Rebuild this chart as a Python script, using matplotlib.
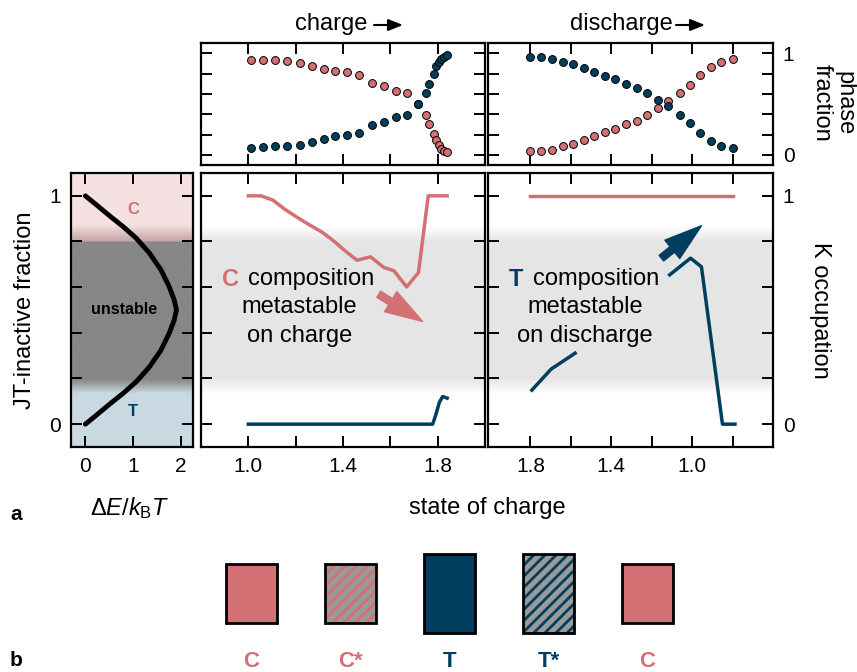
import numpy as np
import matplotlib
matplotlib.use("Agg")
import matplotlib.pyplot as plt
from matplotlib.patches import Rectangle, FancyArrowPatch
from matplotlib.colors import to_rgba

plt.rcParams["font.family"] = ["Liberation Sans", "DejaVu Sans"]
plt.rcParams["mathtext.fontset"] = "custom"
plt.rcParams["mathtext.rm"] = "Liberation Sans"
plt.rcParams["mathtext.it"] = "Liberation Sans:italic"
plt.rcParams["mathtext.bf"] = "Liberation Sans:bold"
plt.rcParams["hatch.linewidth"] = 2.0

RED = "#d27073"
BLUE = "#003e5f"

# ---- phase fraction, charge (top left)
chg_soc = [1.011, 1.064, 1.113, 1.163, 1.217, 1.268, 1.319, 1.367, 1.417, 1.468,
           1.523, 1.572, 1.624, 1.672, 1.718, 1.749, 1.765, 1.786, 1.794, 1.806,
           1.816, 1.827, 1.841]
chg_c = [0.935, 0.931, 0.928, 0.922, 0.902, 0.876, 0.843, 0.827, 0.810, 0.788,
         0.706, 0.676, 0.627, 0.608, 0.500, 0.389, 0.304, 0.206, 0.141, 0.095,
         0.062, 0.042, 0.026]
chg_t = [0.069, 0.075, 0.082, 0.085, 0.101, 0.124, 0.160, 0.183, 0.193, 0.216,
         0.297, 0.324, 0.376, 0.395, 0.500, 0.611, 0.696, 0.797, 0.869, 0.918,
         0.941, 0.967, 0.984]

# ---- phase fraction, discharge (top right)
dis_soc = [1.800, 1.747, 1.693, 1.640, 1.590, 1.536, 1.486, 1.430, 1.380, 1.326,
           1.273, 1.221, 1.169, 1.119, 1.061, 1.012, 0.959, 0.907, 0.855, 0.800]
dis_t = [0.967, 0.958, 0.941, 0.915, 0.893, 0.850, 0.810, 0.778, 0.745, 0.696,
         0.660, 0.611, 0.542, 0.477, 0.395, 0.314, 0.216, 0.134, 0.085, 0.065]
dis_c = [0.036, 0.042, 0.052, 0.085, 0.111, 0.150, 0.190, 0.222, 0.255, 0.301,
         0.333, 0.389, 0.458, 0.526, 0.608, 0.686, 0.781, 0.866, 0.918, 0.941]

# ---- K occupation, charge
occ_chg_c_soc = [1.0, 1.054, 1.104, 1.153, 1.203, 1.253, 1.310, 1.360, 1.409,
                 1.459, 1.516, 1.573, 1.615, 1.669, 1.719, 1.760, 1.840]
occ_chg_c = [1.0, 1.0, 0.981, 0.942, 0.908, 0.876, 0.842, 0.803, 0.759,
             0.718, 0.733, 0.686, 0.672, 0.601, 0.664, 1.0, 1.0]
occ_chg_t_soc = [1.0, 1.779, 1.793, 1.807, 1.821, 1.840]
occ_chg_t = [0.0, 0.0, 0.044, 0.095, 0.121, 0.114]

# ---- K occupation, discharge (nan = hidden behind the label)
occ_dis_c_soc = [1.8, 0.8]
occ_dis_c = [1.0, 1.0]
occ_dis_t_soc = [1.793, 1.698, 1.579, 1.35, 1.111, 1.008, 0.954, 0.850, 0.788]
occ_dis_t = [0.149, 0.241, 0.311, np.nan, 0.654, 0.727, 0.689, 0.0, 0.0]

# ---- left panel: barrier vs JT-inactive fraction
jt_frac = [0.0, 0.041, 0.089, 0.135, 0.186, 0.251, 0.324, 0.397, 0.455, 0.5,
           0.545, 0.603, 0.676, 0.749, 0.814, 0.865, 0.911, 0.959, 1.0]
barrier = [0.0, 0.24, 0.515, 0.79, 1.065, 1.34, 1.58, 1.75, 1.856, 1.904,
           1.856, 1.75, 1.58, 1.34, 1.065, 0.79, 0.515, 0.24, 0.0]

# ---- panel b
phase_labels = ["C", "C*", "T", "T*", "C"]
phase_colors = [RED, RED, BLUE, BLUE, RED]
phase_hatched = [False, True, False, True, False]
phase_heights = [0.6, 0.6, 0.8, 0.8, 0.6]

W, H = 857, 672


def box(x0, y0, x1, y1):
    # pixel box (top-left origin) -> figure fraction rect
    return [x0 / W, 1 - y1 / H, (x1 - x0) / W, (y1 - y0) / H]


def band(ax, xlim, stops, colors):
    yy = np.linspace(-0.1, 1.1, 600)
    rgba = np.array([to_rgba(c) for c in colors])
    img = np.stack([np.interp(yy, stops, rgba[:, k]) for k in range(4)], axis=-1)
    ax.imshow(img[:, None, :], extent=[xlim[0], xlim[1], -0.1, 1.1], origin="lower",
              aspect="auto", zorder=0, interpolation="bilinear")


def style(ax):
    for s in ax.spines.values():
        s.set_linewidth(1.6)
    ax.tick_params(direction="in", length=8, width=1.4, top=True, right=True,
                   labelsize=15, pad=7)


ARROW = "simple,head_width=0.85,head_length=1.35,tail_width=0.26"

fig = plt.figure(figsize=(W / 100, H / 100), dpi=100)

ax_l = fig.add_axes(box(71, 173, 193, 447))
ax_m = fig.add_axes(box(201, 173, 485, 447))
ax_r = fig.add_axes(box(488, 173, 773, 447))
ax_tm = fig.add_axes(box(201, 43, 485, 165))
ax_tr = fig.add_axes(box(488, 43, 773, 165))

yt = np.arange(0, 1.01, 0.2)
ytl = ["0", "", "", "", "", "1"]
xt_c = np.arange(1.0, 1.81, 0.2)
xtl_c = ["1.0", "", "1.4", "", "1.8"]
xt_d = np.arange(1.8, 0.79, -0.2)
xtl_d = ["1.8", "", "1.4", "", "1.0", ""]

gray0 = (0.9, 0.9, 0.9, 0.0)
gray1 = (0.9, 0.9, 0.9, 1.0)

# left panel
lx = (-0.3, 2.25)
band(ax_l, lx, [-0.1, 0.135, 0.195, 0.8, 0.801, 0.875, 1.1],
     ["#c9d9e1", "#c9d9e1", "#878787", "#878787", "#c4a3a3", "#f5e1e1", "#f5e1e1"])
ax_l.plot(barrier, jt_frac, color="black", lw=3.5, solid_capstyle="round", zorder=3)
ax_l.text(1.0, 0.94, "C", color=RED, fontsize=12, fontweight="bold", ha="center", va="center")
ax_l.text(1.0, 0.055, "T", color=BLUE, fontsize=12, fontweight="bold", ha="center", va="center")
ax_l.text(0.8, 0.5, "unstable", fontsize=11.5, fontweight="bold", ha="center", va="center")
ax_l.set_xlim(*lx)
ax_l.set_ylim(-0.1, 1.1)
ax_l.set_xticks([0, 1, 2])
ax_l.set_yticks(yt)
ax_l.set_yticklabels(ytl)
style(ax_l)

# middle panel (charge)
mx = (0.8, 2.0)
band(ax_m, mx, [-0.1, 0.13, 0.2, 0.8, 0.87, 1.1], [gray0, gray0, gray1, gray1, gray0, gray0])
ax_m.plot(occ_chg_c_soc, occ_chg_c, color=RED, lw=2.5, zorder=3)
ax_m.plot(occ_chg_t_soc, occ_chg_t, color=BLUE, lw=2.5, zorder=3)
ax_m.text(0.962, 0.635, "C", color=RED, fontsize=17, fontweight="bold", ha="right", va="center")
ax_m.text(0.997, 0.635, "composition", fontsize=17, ha="left", va="center")
ax_m.text(1.215, 0.511, "metastable", fontsize=17, ha="center", va="center")
ax_m.text(1.215, 0.387, "on charge", fontsize=17, ha="center", va="center")
ax_m.annotate("", xy=(1.736, 0.450), xytext=(1.551, 0.569),
              arrowprops=dict(arrowstyle=ARROW, color=RED, mutation_scale=20,
                              shrinkA=0, shrinkB=0))
ax_m.set_xlim(*mx)
ax_m.set_ylim(-0.1, 1.1)
ax_m.set_xticks(xt_c)
ax_m.set_xticklabels(xtl_c)
ax_m.set_yticks(yt)
ax_m.set_yticklabels([])
style(ax_m)

# right panel (discharge)
rx = (2.01, 0.6)
band(ax_r, rx, [-0.1, 0.13, 0.2, 0.8, 0.87, 1.1], [gray0, gray0, gray1, gray1, gray0, gray0])
ax_r.plot(occ_dis_c_soc, occ_dis_c, color=RED, lw=2.5, zorder=3)
ax_r.plot(occ_dis_t_soc, occ_dis_t, color=BLUE, lw=2.5, zorder=3)
ax_r.text(1.838, 0.635, "T", color=BLUE, fontsize=17, fontweight="bold", ha="right", va="center")
ax_r.text(1.788, 0.635, "composition", fontsize=17, ha="left", va="center")
ax_r.text(1.529, 0.511, "metastable", fontsize=17, ha="center", va="center")
ax_r.text(1.529, 0.387, "on discharge", fontsize=17, ha="center", va="center")
ax_r.annotate("", xy=(0.954, 0.869), xytext=(1.152, 0.727),
              arrowprops=dict(arrowstyle=ARROW, color=BLUE, mutation_scale=20,
                              shrinkA=0, shrinkB=0))
ax_r.set_xlim(*rx)
ax_r.set_ylim(-0.1, 1.1)
ax_r.set_xticks(xt_d)
ax_r.set_xticklabels(xtl_d)
ax_r.set_yticks(yt)
ax_r.set_yticklabels(ytl)
style(ax_r)
ax_r.tick_params(labelleft=False, labelright=True)

# top panels
ax_tm.scatter(chg_soc, chg_c, s=32, color=RED, edgecolor="black", linewidth=0.7, zorder=3)
ax_tm.scatter(chg_soc, chg_t, s=32, color=BLUE, edgecolor="black", linewidth=0.7, zorder=3)
ax_tm.set_xlim(*mx)
ax_tm.set_ylim(-0.1, 1.1)
ax_tm.set_xticks(xt_c)
ax_tm.set_xticklabels([])
ax_tm.set_yticks(yt)
ax_tm.set_yticklabels([])
style(ax_tm)

ax_tr.scatter(dis_soc, dis_c, s=32, color=RED, edgecolor="black", linewidth=0.7, zorder=3)
ax_tr.scatter(dis_soc, dis_t, s=32, color=BLUE, edgecolor="black", linewidth=0.7, zorder=4)
ax_tr.set_xlim(*rx)
ax_tr.set_ylim(-0.1, 1.1)
ax_tr.set_xticks(xt_d)
ax_tr.set_xticklabels([])
ax_tr.set_yticks(yt)
ax_tr.set_yticklabels(ytl)
style(ax_tr)
ax_tr.tick_params(labelleft=False, labelright=True)

# labels
fig.text(25 / W, 1 - 310 / H, "JT-inactive fraction", fontsize=17, rotation=90, ha="center", va="center")
fig.text(820 / W, 1 - 310 / H, "K occupation", fontsize=17, rotation=270, ha="center", va="center")
fig.text(833 / W, 1 - 103 / H, "phase\nfraction", fontsize=17, rotation=270, ha="center", va="center",
         linespacing=1.0)
fig.text(130 / W, 1 - 508 / H, r"$\Delta E/k_\mathrm{B}T$", fontsize=17, ha="center", va="center")
fig.text(487 / W, 1 - 508 / H, "state of charge", fontsize=17, ha="center", va="center")
fig.text(331 / W, 1 - 24 / H, "charge", fontsize=17, ha="center", va="center")
fig.text(621 / W, 1 - 24 / H, "discharge", fontsize=17, ha="center", va="center")
fig.text(10 / W, 1 - 515 / H, "a", fontsize=15, fontweight="bold", ha="left", va="center")
fig.text(10 / W, 1 - 660 / H, "b", fontsize=15, fontweight="bold", ha="left", va="center")
for x0, x1 in [(374, 403), (676, 705)]:
    fig.add_artist(FancyArrowPatch(
        (x0 / W, 1 - 25 / H), (x1 / W, 1 - 25 / H), transform=fig.transFigure,
        arrowstyle="-|>,head_width=0.22,head_length=0.55", mutation_scale=16,
        color="black", lw=1.5, shrinkA=0, shrinkB=0))

# panel b
ax_b = fig.add_axes(box(202, 545, 697, 672))
ax_b.set_xlim(-0.5, 4.5)
ax_b.set_ylim(0, 127 / 99)
ax_b.axis("off")
for i, (lab, col, hat, h) in enumerate(zip(phase_labels, phase_colors, phase_hatched, phase_heights)):
    w = 0.515
    yc = 0.793
    x0 = i - w / 2
    y0 = yc - h / 2
    if hat:
        ax_b.add_patch(Rectangle((x0, y0), w, h, facecolor="#9a9a9a", edgecolor=col,
                                 hatch="///", lw=0))
    else:
        ax_b.add_patch(Rectangle((x0, y0), w, h, facecolor=col, lw=0))
    ax_b.add_patch(Rectangle((x0, y0), w, h, facecolor="none", edgecolor="black", lw=2))
    ax_b.text(i, 0.106, lab, color=col, fontsize=16, fontweight="bold", ha="center", va="center")

fig.savefig("out.png", dpi=100)
